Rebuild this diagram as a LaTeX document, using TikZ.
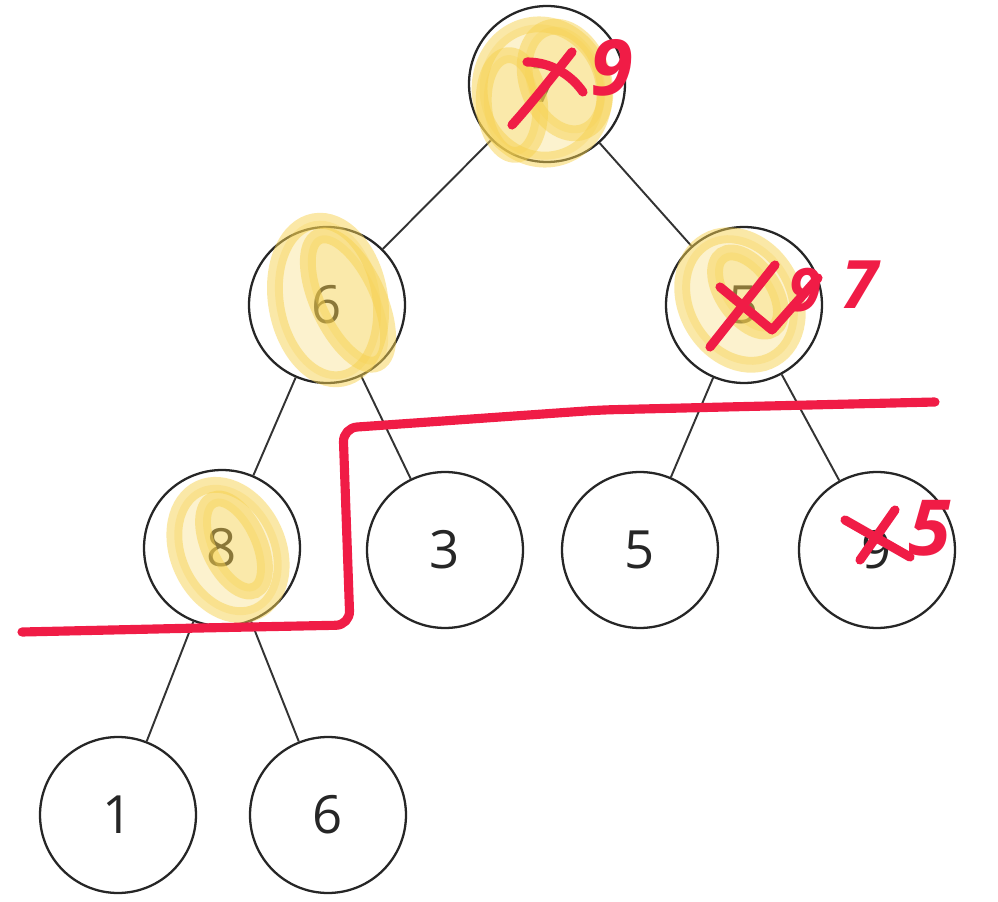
\documentclass[tikz,border=0pt]{standalone}
\usepackage{fontspec}
\setmainfont{Open Sans}
\usepackage{tikz}
\usetikzlibrary{positioning,calc}

\definecolor{inkred}{RGB}{240,28,70}
\definecolor{marker}{RGB}{247,210,80}

\tikzset{
    heapnode/.style={circle, draw=black!85, line width=1.3pt, minimum size=3.12cm, inner sep=0pt, fill=white, text=black!85, font=\fontsize{30}{36}\selectfont},
    edge/.style={draw=black!80, line width=1.1pt},
    ink/.style={draw=inkred, line width=5.2pt, line cap=round, line join=round},
    inktext/.style={text=inkred, font=\fontsize{44}{50}\selectfont\bfseries\itshape, inner sep=0pt},
    hilite/.style={fill=marker, fill opacity=0.28, draw=marker, draw opacity=0.5, line width=9pt}
}

\begin{document}
\begin{tikzpicture}[x=0.02cm, y=-0.02cm]
    \useasboundingbox (0,0) rectangle (998,902);

    % Nodes
    \node[heapnode] (root) at (547,84) {7};
    \node[heapnode] (l) at (327,305) {6};
    \node[heapnode] (r) at (744,305) {5};
    \node[heapnode] (ll) at (222,548) {8};
    \node[heapnode] (lr) at (445,550) {3};
    \node[heapnode] (rl) at (640,550) {5};
    \node[heapnode] (rr) at (877,550) {9};
    \node[heapnode] (lll) at (118,815) {1};
    \node[heapnode] (llr) at (328,815) {6};

    % Edges
    \draw[edge] (root) -- (l);
    \draw[edge] (root) -- (r);
    \draw[edge] (l) -- (ll);
    \draw[edge] (l) -- (lr);
    \draw[edge] (r) -- (rl);
    \draw[edge] (r) -- (rr);
    \draw[edge] (ll) -- (lll);
    \draw[edge] (ll) -- (llr);

    % Highlights
    \draw[hilite, rotate around={15:(542,92)}] (542,92) ellipse (62 and 68);
    \draw[hilite, rotate around={20:(565,80)}] (565,80) ellipse (38 and 55);
    \draw[hilite, rotate around={5:(512,105)}] (512,105) ellipse (28 and 50);
    \draw[hilite, rotate around={10:(328,300)}] (328,300) ellipse (52 and 80);
    \draw[hilite, rotate around={25:(348,300)}] (348,300) ellipse (30 and 70);
    \draw[hilite, rotate around={25:(228,550)}] (228,550) ellipse (50 and 68);
    \draw[hilite, rotate around={25:(234,545)}] (234,545) ellipse (25 and 50);
    \draw[hilite, rotate around={30:(740,300)}] (740,300) ellipse (54 and 68);
    \draw[hilite, rotate around={35:(748,292)}] (748,292) ellipse (25 and 45);

    % Red marks
    \draw[ink, rounded corners=8] (22,632) -- (200,628) -- (350,625) -- (343,428) -- (600,410) -- (935,402);
    \draw[ink] (527,62) .. controls (552,62) and (572,76) .. (583,92);
    \draw[ink] (572,52) .. controls (550,80) and (530,105) .. (512,125);
    \node[inktext] (rootnew) at (612,68) {9};
    \draw[ink] (710,347) -- (775,265);
    \draw[ink] (720,287) -- (772,330) -- (818,278);
    \node[inktext, font=\fontsize{34}{40}\selectfont\bfseries\itshape] (rnew) at (805,290) {9};
    \node[inktext, font=\fontsize{38}{44}\selectfont\bfseries\itshape] (rlast) at (860,285) {7};
    \draw[ink] (845,520) -- (910,557);
    \draw[ink] (895,510) -- (860,560);
    \node[inktext] (rrnew) at (930,528) {5};
\end{tikzpicture}
\end{document}
